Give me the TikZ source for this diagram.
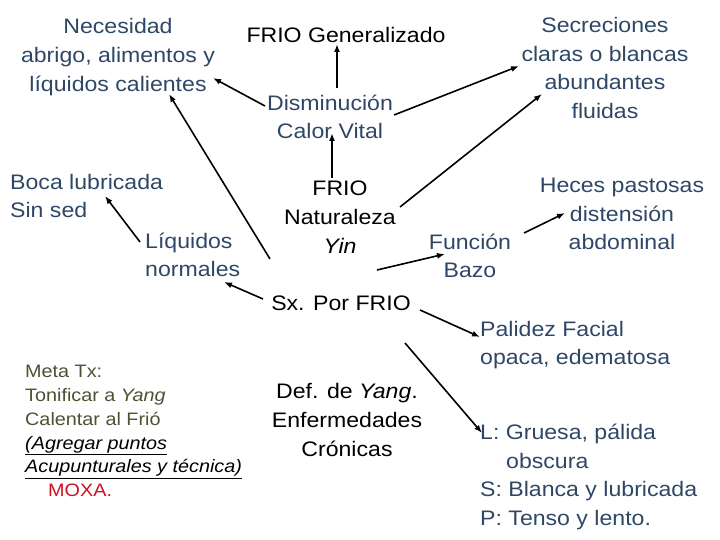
\documentclass[tikz,border=0pt]{standalone}
\usepackage{fontspec}
\setmainfont[FakeStretch=1.1]{Liberation Sans}
\usetikzlibrary{arrows.meta}
\definecolor{tblue}{HTML}{2E4766}
\definecolor{tolive}{HTML}{4D5233}
\definecolor{tred}{HTML}{CC1122}
\tikzset{
  txt/.style={inner sep=0pt, font=\fontsize{21}{28.7}\selectfont},
  bl/.style={txt, text=tblue},
  bk/.style={txt, text=black},
  arr/.style={line width=1.6pt, -{Latex[length=8pt,width=6pt]}},
}
\begin{document}
\begin{tikzpicture}[x=1pt,y=-1pt]
\useasboundingbox (0,0) rectangle (720,540);
% nodes
\node[bl, align=center] (nec) at (118,57) {Necesidad\\abrigo, alimentos y\\líquidos calientes};
\node[bk] (frg) at (346,35) {FRIO Generalizado};
\node[bl, align=center] (sec) at (605,68) {Secreciones\\claras o blancas\\abundantes\\fluidas};
\node[bl, align=center] (dis) at (330,117) {Disminución\\Calor Vital};
\node[bl, align=left, anchor=west] (boca) at (10,196) {Boca lubricada\\Sin sed};
\node[bk, align=center] (frn) at (340,217) {FRIO\\Naturaleza\\\textit{Yin}};
\node[bl, align=left, anchor=west] (liq) at (145,255) {Líquidos\\normales};
\node[bl, align=center] (fun) at (470,256) {Función\\Bazo};
\node[bl, align=center] (hec) at (622,214) {Heces pastosas\\distensión\\abdominal};
\node[bk] (sx) at (341,303) {Sx. Por FRIO};
\node[bl, align=left, anchor=west] (pal) at (480,345) {Palidez Facial\\opaca, edematosa};
\node[inner sep=0pt, align=left, anchor=west, font=\fontsize{18}{23.8}\selectfont] (meta) at (25,431)
  {\textcolor{tolive}{Meta Tx:}\\
   \textcolor{tolive}{Tonificar a \textit{Yang}}\\
   \textcolor{tolive}{Calentar al Frió}\\
   \underline{\textit{(Agregar puntos}}\\
   \underline{\textit{Acupunturales y técnica)}}\\
   \hspace{23pt}\textcolor{tred}{MOXA.}};
\node[bk, align=center] (def) at (347,420) {Def. de \textit{Yang}.\\Enfermedades\\Crónicas};
\node[bl, align=left, anchor=west] (lgr) at (480,477) {L: Gruesa, pálida\\\hspace{26pt}obscura\\S: Blanca y lubricada\\P: Tenso y lento.};
% connectors
\draw[arr] ([shift={(-65,-11)}]dis.center) -- ([shift={(95,21)}]nec.center);
\draw[arr] ([shift={(7,-29)}]dis.center) -- ([shift={(-9,9)}]frg.center);
\draw[arr] ([shift={(64,-2)}]dis.center) -- ([shift={(-86,-2)}]sec.center);
\draw[arr] ([shift={(-8,-39)}]frn.center) -- ([shift={(2,16)}]dis.center);
\draw[arr] ([shift={(60,-10)}]frn.center) -- ([shift={(-63,26)}]sec.center);
\draw[arr] ([shift={(-71,-44)}]sx.center) -- ([shift={(51,37)}]nec.center);
\draw[arr] ([shift={(-5,-13)}]liq.west) -- ([shift={(95,0)}]boca.west);
\draw[arr] ([shift={(-78,-4)}]sx.center) -- ([shift={(79,27)}]liq.west);
\draw[arr] ([shift={(36,-33)}]sx.center) -- ([shift={(-25,-2)}]fun.center);
\draw[arr] ([shift={(54,-23)}]fun.center) -- ([shift={(-57,-1)}]hec.center);
\draw[arr] ([shift={(79,7)}]sx.center) -- ([shift={(0,-8)}]pal.west);
\draw[arr] ([shift={(64,40)}]sx.center) -- ([shift={(2,-44)}]lgr.west);
\end{tikzpicture}
\end{document}
